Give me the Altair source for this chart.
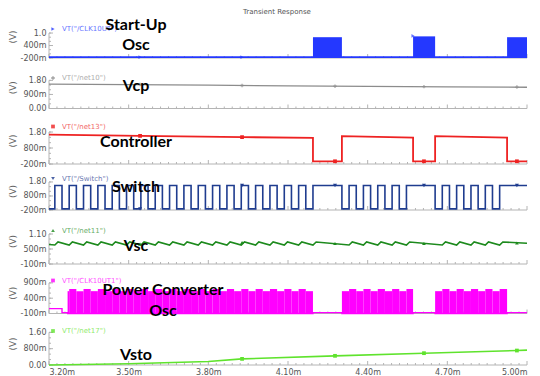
import altair as alt
import pandas as pd

# ---------------- data (times in ms, values in V) ----------------
T_DOMAIN = [3.2, 5.0]
x_major = [3.2, 3.5, 3.8, 4.1, 4.4, 4.7, 5.0]
x_minor = [round(3.2 + 0.03 * k, 2) for k in range(61) if k % 10 != 0]

marker_t = [3.543, 3.927, 4.277, 4.612, 4.962]

# Start-Up Osc bursts (controller-low windows)
su_line_t = [3.20, 5.00]
su_line_v = [-0.16, -0.16]
su_burst_start = [4.194, 4.571, 4.925]
su_burst_end = [4.303, 4.654, 5.000]
su_burst_top = [0.80, 0.84, 0.80]
su_burst_bot = [-0.20, -0.20, -0.20]
su_marker_t = [3.543, 3.927, 4.571]
su_marker_v = [-0.16, -0.16, 0.86]

# Vcp
vcp_t = [3.20, 3.50, 3.80, 4.10, 4.40, 4.70, 5.00]
vcp_v = [1.56, 1.53, 1.49, 1.45, 1.42, 1.39, 1.36]
vcp_marker_v = [1.53, 1.47, 1.42, 1.40, 1.37]

# Controller
ctrl_t = [3.20, 3.543, 3.927, 4.194, 4.194, 4.303, 4.303, 4.571, 4.571,
          4.654, 4.654, 4.925, 4.925, 5.00]
ctrl_v = [1.64, 1.56, 1.48, 1.44, -0.03, -0.03, 1.54, 1.45, -0.03,
          -0.03, 1.54, 1.45, -0.03, -0.03]
ctrl_marker_v = [1.56, 1.48, -0.03, -0.03, -0.03]

# Switch: high intervals
sw_hi_start = [3.222, 3.276, 3.330, 3.384, 3.438, 3.492, 3.546, 3.600, 3.654,
               3.708, 3.762, 3.816, 3.870, 3.924, 3.978, 4.032, 4.086, 4.140,
               4.194,
               4.330, 4.384, 4.438, 4.492, 4.546,
               4.681, 4.735, 4.789, 4.843, 4.897]
sw_hi_end = [3.249, 3.303, 3.357, 3.411, 3.465, 3.519, 3.573, 3.627, 3.681,
             3.735, 3.789, 3.843, 3.897, 3.951, 4.005, 4.059, 4.113, 4.167,
             4.303,
             4.357, 4.411, 4.465, 4.519, 4.654,
             4.708, 4.762, 4.816, 4.870, 5.000]
sw_high = 1.55
sw_low = -0.12
sw_marker_v = [-0.12, 1.55, 1.55, 1.55, 1.55]

# Vsc ripple (trough at each switch rising edge, crest shortly after)
vsc_trough = 0.66
vsc_crest = 0.78
vsc_marker_v = [0.70, 0.76, 0.72, 0.72, 0.74]

# Power converter osc
pco_on_start = [3.270, 4.303, 4.654]
pco_on_end = [4.194, 4.571, 4.925]
pco_top_hi = 0.70
pco_top_lo = 0.63
pco_floor = -0.10
pco_off_t = [3.20, 3.249, 3.249, 5.00]
pco_off_v = [0.06, 0.06, -0.07, -0.07]

# Vsto
vsto_t = [3.20, 3.50, 3.80, 3.927, 4.00, 4.277, 4.612, 4.962, 5.00]
vsto_v = [0.00, 0.06, 0.17, 0.30, 0.33, 0.45, 0.58, 0.71, 0.73]
vsto_marker_t = [3.927, 4.277, 4.612, 4.962]
vsto_marker_v = [0.30, 0.45, 0.58, 0.71]

# ---------------- helpers ----------------
W = 478
FONT = "DejaVu Sans"
AXIS_GREY = "#b4b4b4"
NO_BORDER = alt.ViewBackground(stroke="transparent", strokeWidth=0)


def label_expr(vals, labels):
    expr = "'%s'" % labels[-1]
    for i in range(len(vals) - 2, -1, -1):
        mid = (vals[i] + vals[i + 1]) / 2
        expr = "datum.value < %g ? '%s' : %s" % (mid, labels[i], expr)
    return expr


def switch_points():
    pts = [(T_DOMAIN[0], sw_low)]
    for s, e in zip(sw_hi_start, sw_hi_end):
        pts += [(s, sw_low), (s, sw_high), (e, sw_high)]
        if e < T_DOMAIN[1]:
            pts.append((e, sw_low))
    return pd.DataFrame({"t": [p[0] for p in pts], "v": [p[1] for p in pts],
                         "i": list(range(len(pts)))})


def vsc_points():
    pts = [(T_DOMAIN[0], 0.68)]
    for s, e in zip(sw_hi_start, sw_hi_end):
        pts += [(s, vsc_trough), (s + 0.012, vsc_crest)]
    pts.append((T_DOMAIN[1], vsc_crest - 0.05))
    return pd.DataFrame({"t": [p[0] for p in pts], "v": [p[1] for p in pts],
                         "i": list(range(len(pts)))})


def pco_rects():
    rows = []
    for a, b in zip(pco_on_start, pco_on_end):
        edges = [a]
        for s, e in zip(sw_hi_start, sw_hi_end):
            if a < s < b:
                edges.append(s)
            if a < e < b:
                edges.append(e)
        edges.append(b)
        edges = sorted(edges)
        for k in range(len(edges) - 1):
            mid = (edges[k] + edges[k + 1]) / 2
            hi = any(s <= mid < e for s, e in zip(sw_hi_start, sw_hi_end))
            rows.append({"a": edges[k], "b": edges[k + 1], "bot": pco_floor,
                         "top": pco_top_hi if hi else pco_top_lo})
    return pd.DataFrame(rows)


def pco_line():
    pts = list(zip(pco_off_t[:3], pco_off_v[:3]))
    for a, b in zip(pco_on_start, pco_on_end):
        pts += [(a, -0.07), (a, pco_floor), (b, pco_floor), (b, -0.07)]
    pts.append((T_DOMAIN[1], -0.07))
    return pd.DataFrame({"t": [p[0] for p in pts], "v": [p[1] for p in pts],
                         "i": list(range(len(pts)))})


def make_panel(h, dom, yvals, ylabels, color, legend, legend_shape,
               legend_y, big, traces, bottom=False, title=False):
    xaxis = None
    if bottom:
        xaxis = alt.Axis(values=x_major, labelExpr="format(datum.value, '.2f') + 'm'",
                         domain=False, ticks=False, grid=False, title=None,
                         labelPadding=3, labelFontSize=8, labelColor="#555",
                         labelFont=FONT)
    yaxis = alt.Axis(values=yvals, labelExpr=label_expr(yvals, ylabels),
                     domain=False, ticks=False, grid=False, title="(V)",
                     minExtent=30, maxExtent=30, labelPadding=3, titlePadding=2,
                     labelFontSize=8, labelColor="#555", labelFont=FONT,
                     titleFontSize=9, titleColor="#666", titleFont=FONT,
                     titleFontWeight="normal")
    xs = alt.Scale(domain=T_DOMAIN, nice=False, zero=False)
    ys = alt.Scale(domain=dom, nice=False, zero=False)

    def X(f="t"):
        return alt.X(f + ":Q", scale=xs, axis=xaxis)

    def Y(f="v"):
        return alt.Y(f + ":Q", scale=ys, axis=yaxis)

    layers = []
    # axis lines
    layers.append(alt.Chart(pd.DataFrame({"a": [T_DOMAIN[0]], "b": [T_DOMAIN[1]], "v": [dom[0]]}))
                  .mark_rule(color=AXIS_GREY, strokeWidth=1)
                  .encode(x=X("a"), x2="b:Q", y=Y("v")))
    layers.append(alt.Chart(pd.DataFrame({"t": [T_DOMAIN[0]], "a": [dom[0]], "b": [yvals[-1]]}))
                  .mark_rule(color=AXIS_GREY, strokeWidth=1)
                  .encode(x=X("t"), y=Y("a"), y2="b:Q"))
    # x ticks (inside)
    layers.append(alt.Chart(pd.DataFrame({"t": x_minor}))
                  .mark_rule(color=AXIS_GREY, strokeWidth=1)
                  .encode(x=X("t"), y=alt.value(h), y2=alt.value(h - 2)))
    layers.append(alt.Chart(pd.DataFrame({"t": x_major}))
                  .mark_rule(color=AXIS_GREY, strokeWidth=1)
                  .encode(x=X("t"), y=alt.value(h), y2=alt.value(h - 4)))
    # y ticks (inside)
    step = (yvals[1] - yvals[0]) / 3
    yminor = [yvals[0] + step * k for k in range(7)]
    layers.append(alt.Chart(pd.DataFrame({"v": yminor}))
                  .mark_rule(color=AXIS_GREY, strokeWidth=1)
                  .encode(y=Y("v"), x=alt.value(0), x2=alt.value(2)))
    layers.append(alt.Chart(pd.DataFrame({"v": yvals}))
                  .mark_rule(color=AXIS_GREY, strokeWidth=1)
                  .encode(y=Y("v"), x=alt.value(0), x2=alt.value(4)))

    layers += traces(X, Y)

    # legend entry
    layers.append(alt.Chart(pd.DataFrame({"k": [0]}))
                  .mark_point(shape=legend_shape, filled=True, size=14, color=color, opacity=0.8)
                  .encode(x=alt.value(4), y=alt.value(legend_y)))
    layers.append(alt.Chart(pd.DataFrame({"k": [legend]}))
                  .mark_text(align="left", baseline="middle", font=FONT, fontSize=7,
                             color=color, opacity=0.7)
                  .encode(text="k:N", x=alt.value(13), y=alt.value(legend_y)))
    # big labels
    for txt, bx, by in big:
        layers.append(alt.Chart(pd.DataFrame({"k": [txt]}))
                      .mark_text(align="center", baseline="middle", font="Lato",
                                 fontSize=16, fontWeight="bold", color="black")
                      .encode(text="k:N", x=alt.value(bx), y=alt.value(by)))
    if title:
        layers.append(alt.Chart(pd.DataFrame({"k": ["Transient Response"]}))
                      .mark_text(align="center", baseline="middle", font=FONT,
                                 fontSize=7, color="#555")
                      .encode(text="k:N", x=alt.value(228), y=alt.value(-3)))
    return alt.layer(*layers).properties(width=W, height=h, view=NO_BORDER)


# ---------------- traces ----------------
def tr_su(X, Y):
    c = "#2438ff"
    bursts = pd.DataFrame({"a": su_burst_start, "b": su_burst_end,
                           "top": su_burst_top, "bot": su_burst_bot})
    return [
        alt.Chart(pd.DataFrame({"t": su_line_t, "v": su_line_v}))
        .mark_line(color=c, strokeWidth=1.6).encode(x=X("t"), y=Y("v")),
        alt.Chart(bursts).mark_rect(color=c).encode(x=X("a"), x2="b:Q", y=Y("bot"), y2="top:Q"),
        alt.Chart(pd.DataFrame({"t": su_marker_t, "v": su_marker_v}))
        .mark_point(shape="triangle-right", filled=True, size=14, color=c)
        .encode(x=X("t"), y=Y("v")),
    ]


def tr_vcp(X, Y):
    c = "#8c8c8c"
    return [
        alt.Chart(pd.DataFrame({"t": vcp_t, "v": vcp_v}))
        .mark_line(color=c, strokeWidth=1.3).encode(x=X("t"), y=Y("v")),
        alt.Chart(pd.DataFrame({"t": marker_t, "v": vcp_marker_v}))
        .mark_point(shape="cross", filled=True, size=12, color=c)
        .encode(x=X("t"), y=Y("v")),
    ]


def tr_ctrl(X, Y):
    c = "#ee2222"
    return [
        alt.Chart(pd.DataFrame({"t": ctrl_t, "v": ctrl_v, "i": list(range(len(ctrl_t)))}))
        .mark_line(color=c, strokeWidth=1.8).encode(x=X("t"), y=Y("v"), order="i:Q"),
        alt.Chart(pd.DataFrame({"t": marker_t, "v": ctrl_marker_v}))
        .mark_point(shape="square", filled=True, size=14, color=c, opacity=1)
        .encode(x=X("t"), y=Y("v")),
    ]


def tr_sw(X, Y):
    c = "#1f3c8f"
    return [
        alt.Chart(switch_points()).mark_line(color=c, strokeWidth=1.6)
        .encode(x=X("t"), y=Y("v"), order="i:Q"),
        alt.Chart(pd.DataFrame({"t": marker_t, "v": sw_marker_v}))
        .mark_point(shape="triangle-down", filled=True, size=16, color=c, opacity=1)
        .encode(x=X("t"), y=Y("v")),
    ]


def tr_vsc(X, Y):
    c = "#1d8a1d"
    return [
        alt.Chart(vsc_points()).mark_line(color=c, strokeWidth=1.6)
        .encode(x=X("t"), y=Y("v"), order="i:Q"),
        alt.Chart(pd.DataFrame({"t": marker_t, "v": vsc_marker_v}))
        .mark_point(shape="triangle-up", filled=True, size=14, color=c, opacity=1)
        .encode(x=X("t"), y=Y("v")),
    ]


def tr_pco(X, Y):
    c = "#ff00ff"
    return [
        alt.Chart(pco_rects()).mark_rect(color=c, opacity=1)
        .encode(x=X("a"), x2="b:Q", y=Y("bot"), y2="top:Q"),
        alt.Chart(pco_line()).mark_line(color=c, strokeWidth=1.4)
        .encode(x=X("t"), y=Y("v"), order="i:Q"),
    ]


def tr_vsto(X, Y):
    c = "#5fe32d"
    return [
        alt.Chart(pd.DataFrame({"t": vsto_t, "v": vsto_v}))
        .mark_line(color=c, strokeWidth=1.6).encode(x=X("t"), y=Y("v")),
        alt.Chart(pd.DataFrame({"t": vsto_marker_t, "v": vsto_marker_v}))
        .mark_point(shape="square", filled=True, size=14, color=c, opacity=1)
        .encode(x=X("t"), y=Y("v")),
    ]


p1 = make_panel(43, [-0.2, 1.867], [-0.2, 0.4, 1.0], ["-200m", "400m", "1.0"],
                "#2438ff", 'VT("/CLK10UT")', "triangle-right", 14,
                [("Start-Up", 87, 9.5), ("Osc", 87, 30)], tr_su, title=True)
p2 = make_panel(42.5, [0.0, 2.72], [0.0, 0.9, 1.8], ["0.00", "900m", "1.80"],
                "#8c8c8c", 'VT("/net10")', "cross", 12,
                [("Vcp", 87, 20)], tr_vcp)
p3 = make_panel(47, [-0.2, 2.74], [-0.2, 0.8, 1.8], ["-200m", "800m", "1.80"],
                "#ee2222", 'VT("/net13")', "square", 9.5,
                [("Controller", 87, 24.5)], tr_ctrl)
p4 = make_panel(38, [-0.2, 2.51], [-0.2, 0.8, 1.8], ["-200m", "800m", "1.80"],
                "#1f3c8f", 'VT("/Switch")', "triangle-down", 6.5,
                [("Switch", 87, 14.5)], tr_sw)
p5 = make_panel(46, [-0.1, 1.74], [-0.1, 0.5, 1.1], ["-100m", "500m", "1.10"],
                "#1d8a1d", 'VT("/net11")', "triangle-up", 12.5,
                [("Vsc", 87, 27.5)], tr_vsc)
p6 = make_panel(41.5, [-0.1, 1.256], [-0.1, 0.4, 0.9], ["-100m", "400m", "900m"],
                "#ff00ff", 'VT("/CLK10UT1")', "square", 8.5,
                [("Power Converter", 114, 17.5), ("Osc", 114, 38.5)], tr_pco)
p7 = make_panel(43, [0.0, 2.11], [0.0, 0.8, 1.6], ["0.00", "800m", "1.60"],
                "#5fe32d", 'VT("/net17")', "square", 9,
                [("Vsto", 87, 33)], tr_vsto, bottom=True)

chart = (
    alt.vconcat(p1, p2, p3, p4, p5, p6, p7, spacing=8, bounds="flush")
    .properties(padding={"left": 0, "top": 0, "right": 0, "bottom": 0})
    .configure_view(stroke="transparent", strokeWidth=0)
    .configure(background="white")
)

chart.save("out.html", embed_options={"renderer": "svg", "actions": False})
